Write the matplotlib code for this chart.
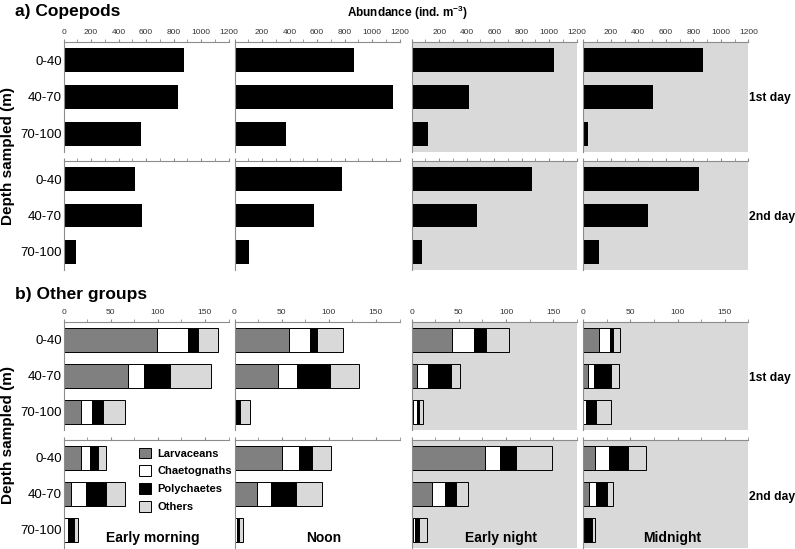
import matplotlib
matplotlib.use("Agg")
import matplotlib.pyplot as plt
from matplotlib.ticker import MultipleLocator, FuncFormatter

plt.rcParams['font.family'] = ['Liberation Sans', 'DejaVu Sans']
plt.rcParams['mathtext.default'] = 'regular'

depths = ["0-40", "40-70", "70-100"]
periods = ["Early morning", "Noon", "Early night", "Midnight"]
days = ["1st day", "2nd day"]
groups = ["Larvaceans", "Chaetognaths", "Polychaetes", "Others"]

# copepods (ind. m-3), one list per period, values by depth
cop_day1 = [[873, 836, 563], [866, 1156, 371], [1033, 414, 115], [873, 505, 32]]
cop_day2 = [[520, 571, 93], [781, 577, 107], [874, 472, 76], [841, 468, 112]]

# other groups, one list per period, values by depth
larv_day1 = [[99, 68, 19], [58, 46, 0], [43, 5.4, 1.8], [16.6, 5.3, 0]]
chaet_day1 = [[33.5, 17.4, 11.4], [22, 20.6, 1], [23, 11.8, 3.5], [11.7, 6, 2.5]]
poly_day1 = [[10.5, 27.7, 11.7], [7, 34.5, 5], [13, 25, 2.8], [2.8, 17.7, 10.6]]
other_day1 = [[20.5, 43.3, 22.7], [28.4, 31.2, 10], [24, 9, 4.3], [7.8, 9.2, 16]]

larv_day2 = [[18.5, 7.8, 0], [50.4, 23.8, 0], [78, 21.8, 1.5], [12.7, 5.7, 0.5]]
chaet_day2 = [[9.2, 16.3, 4.6], [17.8, 14.5, 2.5], [16, 13.9, 1.5], [14.2, 7.4, 1.5]]
poly_day2 = [[8.5, 21.3, 6.7], [13.8, 27.4, 2.5], [16.8, 11.4, 5], [20.4, 11.6, 6.7]]
other_day2 = [[8.5, 19.9, 4.6], [20.2, 26.6, 3.9], [37.9, 12.9, 8.7], [18.8, 7.1, 3.7]]

group_colors = ["#808080", "white", "black", "#d9d9d9"]
night_bg = "#d9d9d9"
spine_col = "#8c8c8c"

W, H = 795, 549
fig = plt.figure(figsize=(W / 100, H / 100), dpi=100)

col_left = [63.5, 234.5, 411.7, 583.3]
col_w = 165
row_top = [42, 161, 322, 440]
row_h = [110, 109, 108, 108]


def make_ax(r, c):
    ax = fig.add_axes([col_left[c] / W, 1 - (row_top[r] + row_h[r]) / H,
                       col_w / W, row_h[r] / H])
    if c >= 2:
        ax.set_facecolor(night_bg)
    for s in ["right", "bottom"]:
        ax.spines[s].set_visible(False)
    for s in ["top", "left"]:
        ax.spines[s].set_color(spine_col)
        ax.spines[s].set_linewidth(0.8)
    ax.set_ylim(2.5, -0.5)
    ax.xaxis.tick_top()
    ax.tick_params(axis='x', which='both', direction='out', color=spine_col,
                   labelsize=6, pad=1.5, labelcolor='#333333')
    ax.tick_params(axis='x', which='major', length=2.5)
    ax.tick_params(axis='x', which='minor', length=2)
    if c == 0:
        ax.set_yticks(range(3))
        ax.set_yticklabels(depths, fontsize=9.5)
        ax.tick_params(axis='y', length=0, pad=1)
    else:
        ax.set_yticks([])
    return ax


ypos = list(range(3))

# a) copepods
for d, data in enumerate([cop_day1, cop_day2]):
    for c in range(4):
        ax = make_ax(d, c)
        ax.barh(ypos, data[c], height=0.66, color="black")
        ax.set_xlim(0, 1200)
        ax.xaxis.set_major_locator(MultipleLocator(200))
        ax.xaxis.set_minor_locator(MultipleLocator(100))
        if d == 0:
            if c > 0:
                ax.xaxis.set_major_formatter(
                    FuncFormatter(lambda v, p: "" if v == 0 else f"{v:.0f}"))
        else:
            ax.tick_params(axis='x', labeltop=False)

# b) other groups
other_sets = [[larv_day1, chaet_day1, poly_day1, other_day1],
              [larv_day2, chaet_day2, poly_day2, other_day2]]
for d, sets in enumerate(other_sets):
    for c in range(4):
        ax = make_ax(d + 2, c)
        left = [0, 0, 0]
        handles = []
        for g, vals in enumerate(sets):
            b = ax.barh(ypos, vals[c], left=left, height=0.64,
                        color=group_colors[g], edgecolor="black", linewidth=0.7,
                        label=groups[g])
            handles.append(b)
            left = [l + v for l, v in zip(left, vals[c])]
        ax.set_xlim(0, 175)
        ax.xaxis.set_major_locator(MultipleLocator(50))
        ax.xaxis.set_minor_locator(MultipleLocator(25))
        if d == 1:
            ax.tick_params(axis='x', labeltop=False)
            ax.text(0.54, 0.09, periods[c], transform=ax.transAxes,
                    ha="center", va="center", fontsize=10, fontweight="bold")
            if c == 0:
                ax.legend(handles=handles, loc="upper left",
                          bbox_to_anchor=((133 - 63.5) / col_w, 1 - 2 / 108),
                          frameon=False, handlelength=1.1,
                          handleheight=1.1, handletextpad=0.6,
                          labelspacing=0.6, borderpad=0,
                          prop={'weight': 'bold', 'size': 8})

# text labels
fig.text(15 / W, 1 - 11.5 / H, "a) Copepods", fontsize=12.5, fontweight="bold",
         va="center", ha="left")
fig.text(15 / W, 1 - 294 / H, "b) Other groups", fontsize=12.5,
         fontweight="bold", va="center", ha="left")
fig.text(407 / W, 1 - 13 / H, r"Abundance (ind. m$^{-3}$)", fontsize=8.5,
         fontweight="bold", ha="center", va="center")
for yc in [156, 435]:
    fig.text(8 / W, 1 - yc / H, "Depth sampled (m)", rotation=90, fontsize=11,
             fontweight="bold", ha="center", va="center")
for yc, lab in zip([98, 217, 378, 497], days + days):
    fig.text(749 / W, 1 - yc / H, lab, fontsize=8.7, fontweight="bold",
             ha="left", va="center")

fig.savefig("out.png", dpi=100)
